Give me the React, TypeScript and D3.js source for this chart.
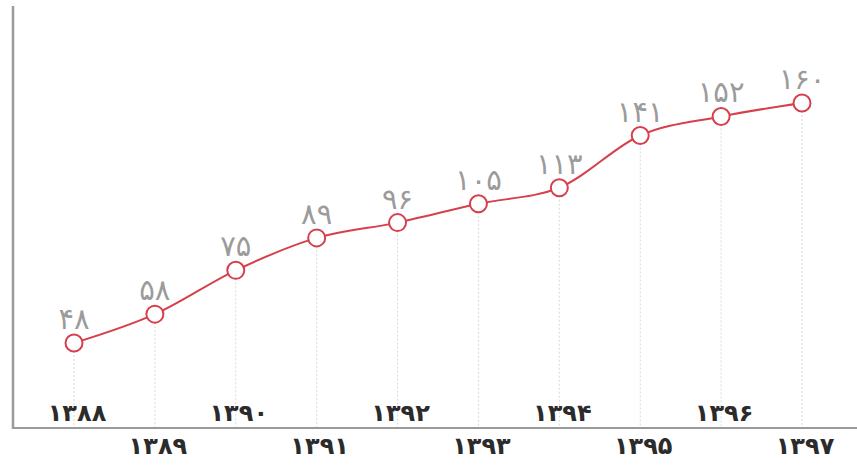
import React, { useEffect } from 'react';
import * as d3 from 'd3';

const years = [1388, 1389, 1390, 1391, 1392, 1393, 1394, 1395, 1396, 1397];
const values = [48, 58, 75, 89, 96, 105, 113, 141, 152, 160];

const WIDTH = 857;
const HEIGHT = 471;
const AXIS_Y = 428;
const AXIS_X = 13;

// Persian digits
const fa = (n: number) => String(n).replace(/\d/g, d => '۰۱۲۳۴۵۶۷۸۹'[+d]);

const App: React.FC = () => {
  useEffect(() => {
    document.body.style.margin = '0';
  }, []);

  const x = d3.scalePoint<number>()
    .domain(years)
    .range([74, 802]);

  // infographic is not linear; sqrt fits the drawn heights best
  const y = d3.scaleSqrt()
    .domain([48, 160])
    .range([343, 103]);

  const pts = years.map((yr, i) => ({ yr, v: values[i], i }));

  const line = d3.line<typeof pts[0]>()
    .x(d => x(d.yr) as number)
    .y(d => y(d.v))
    .curve(d3.curveMonotoneX);

  return (
    <svg width={WIDTH} height={HEIGHT} style={{ display: 'block', background: '#fff' }}>
      {/* dotted guides */}
      {pts.map(d => (
        <line key={'g' + d.yr}
          x1={x(d.yr)} x2={x(d.yr)}
          y1={y(d.v)} y2={AXIS_Y}
          stroke="#d8d8d8" strokeWidth={1} strokeDasharray="2,2" />
      ))}

      {/* axes */}
      <line x1={AXIS_X} x2={AXIS_X} y1={6} y2={AXIS_Y + 1} stroke="#9a9a9a" strokeWidth={2.5} />
      <line x1={AXIS_X} x2={WIDTH} y1={AXIS_Y} y2={AXIS_Y} stroke="#9a9a9a" strokeWidth={2} />

      <path d={line(pts) as string} fill="none" stroke="#d6404c" strokeWidth={2} />

      {pts.map(d => (
        <circle key={'c' + d.yr} cx={x(d.yr)} cy={y(d.v)} r={8.5}
          fill="#fff" stroke="#d6404c" strokeWidth={2} />
      ))}

      {/* value labels */}
      {pts.map(d => (
        <text key={'v' + d.yr} x={x(d.yr)} y={y(d.v) - 14}
          textAnchor="middle" fontFamily="DejaVu Sans" fontSize={29}
          fill="#9b9b9b">{fa(d.v)}</text>
      ))}

      {/* year labels, staggered */}
      {pts.map(d => (
        <text key={'y' + d.yr} x={(x(d.yr) as number) + 3} y={d.i % 2 === 0 ? 421 : 454}
          textAnchor="middle" fontFamily="DejaVu Sans" fontSize={24}
          fontWeight="bold" fill="#2b2b2b">{fa(d.yr)}</text>
      ))}
    </svg>
  );
};

export default App;
